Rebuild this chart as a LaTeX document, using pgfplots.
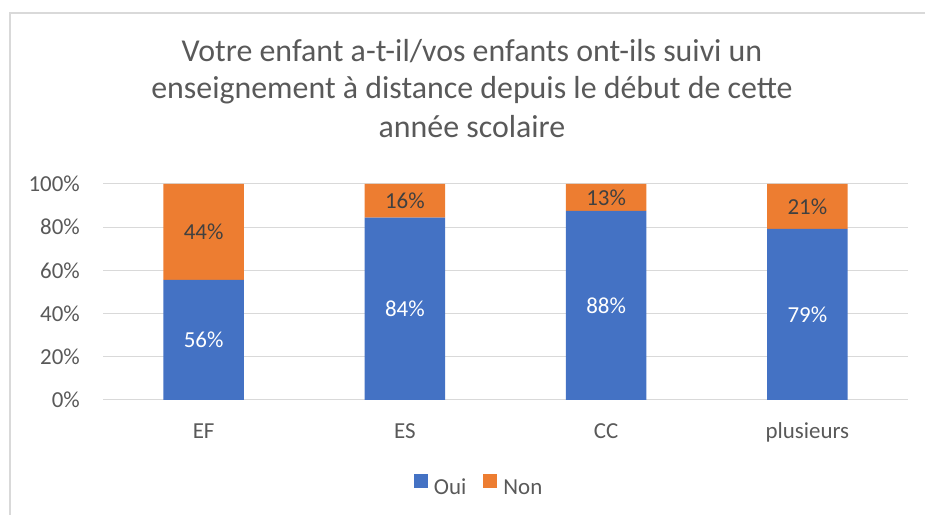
\documentclass[border=0pt]{standalone}
\usepackage{fontspec}
\setmainfont{Carlito}
\usepackage{pgfplots}
\usepackage{pgfplotstable}
\pgfplotsset{compat=1.18}
\definecolor{oui}{HTML}{4472C4}
\definecolor{non}{HTML}{ED7D31}
\definecolor{txt}{HTML}{595959}
\definecolor{gridc}{HTML}{D9D9D9}
\definecolor{dark}{HTML}{404040}
\pgfplotstableread{
x oui non ouilab nonlab
0 55.6 44.4 56 44
1 84.4 15.6 84 16
2 87.5 12.5 88 13
3 79.2 20.8 79 21
}\data
\pgfplotsset{
  /pgf/number format/assume math mode=true,
  base/.style={
    at={(103bp,115bp)}, anchor=south west,
    scale only axis, width=805bp, height=216bp,
    xmin=-0.5, xmax=3.5, ymin=0, ymax=100,
  }
}
\begin{document}
\begin{tikzpicture}[x=1bp,y=1bp]
\useasboundingbox (0,0) rectangle (925,515);
\draw[gridc, line width=1.3bp] (10,0) -- (10,502) -- (925,502);
\begin{scope}[every node/.style={text=txt, anchor=base, inner sep=0, font=\fontsize{32}{38}\selectfont}]
\node at (472,453.3) {Votre enfant a-t-il/vos enfants ont-ils suivi un};
\node at (472,416) {enseignement à distance depuis le début de cette};
\node at (472,377.3) {année scolaire};
\end{scope}
\begin{axis}[base,
  ybar stacked, bar width=0.4,
  axis line style={draw=none},
  ymajorgrids, major grid style={gridc, line width=1bp},
  ytick={0,20,40,60,80,100},
  yticklabel={\pgfmathprintnumber{\tick}\%},
  xtick={0,1,2,3}, xticklabels={EF,ES,CC,plusieurs},
  major tick length=0,
  tick label style={text=txt, font=\fontsize{23}{28}\selectfont, inner sep=0},
  yticklabel style={anchor=east, xshift=-23bp},
  xticklabel style={anchor=base, yshift=-39bp},
  legend style={at={(0.466,-0.3935)}, anchor=center, draw=none, fill=none,
    inner sep=0, font=\fontsize{23}{28}\selectfont, text=txt,
    nodes={inner sep=0},
    legend columns=2,
    /tikz/every odd column/.append style={column sep=6bp},
    /tikz/every even column/.append style={column sep=17bp}},
  legend image code/.code={\fill[#1] (0bp,0bp) rectangle (14bp,14bp);},
]
\addplot[fill=oui, draw=none] table[x=x, y=oui] {\data};
\addplot[fill=non, draw=none] table[x=x, y=non] {\data};
\legend{Oui, Non}
\end{axis}
\begin{axis}[base, hide axis]
\addplot[draw=none, mark=none, point meta=\thisrow{ouilab},
  nodes near coords={\pgfmathprintnumber{\pgfplotspointmeta}\%},
  every node near coord/.style={anchor=center, text=white, font=\fontsize{23}{28}\selectfont}]
  table[x=x, y expr=\thisrow{oui}/2] {\data};
\addplot[draw=none, mark=none, point meta=\thisrow{nonlab},
  nodes near coords={\pgfmathprintnumber{\pgfplotspointmeta}\%},
  every node near coord/.style={anchor=center, text=dark, font=\fontsize{23}{28}\selectfont}]
  table[x=x, y expr=\thisrow{oui}+\thisrow{non}/2] {\data};
\end{axis}
\end{tikzpicture}
\end{document}
